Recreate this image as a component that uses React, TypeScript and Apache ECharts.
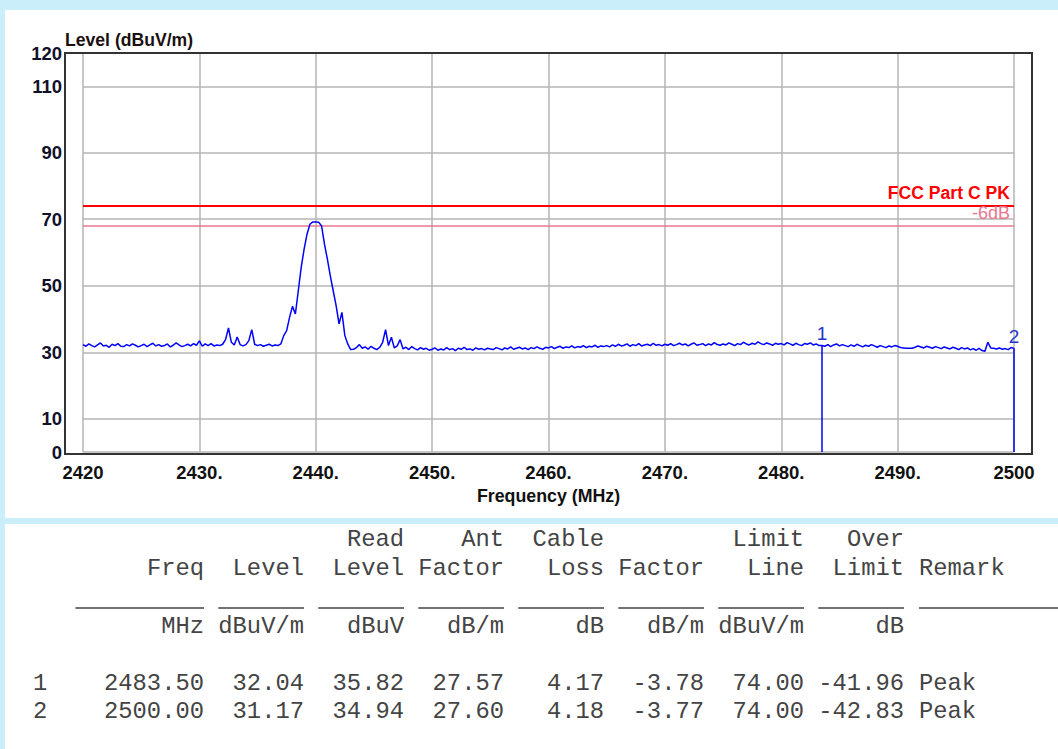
import React, { useEffect, useRef } from "react";
import * as echarts from "echarts";

// ---- axis ticks ----
const xTickValues = [2420, 2430, 2440, 2450, 2460, 2470, 2480, 2490, 2500];
const xTickLabels = ["2420", "2430.", "2440.", "2450.", "2460.", "2470.", "2480.", "2490.", "2500"];
const yTickValues = [0, 10, 30, 50, 70, 90, 110, 120];
const yTickLabels = ["0", "10", "30", "50", "70", "90", "110", "120"];

// ---- trace (sweep 2420..2500 MHz, 0.25 MHz step) ----
const traceStartMHz = 2420;
const traceStepMHz = 0.25;
const traceLevels = [
  32.3, 31.8, 32.5, 32.0, 31.6, 32.2, 32.8, 31.9, 32.1, 31.5, 32.4, 32.0, 32.6, 31.8, 31.7, 32.3, 31.9, 32.5, 32.1, 31.6,
  32.0, 32.4, 31.7, 32.2, 32.7, 31.9, 32.3, 31.8, 32.0, 32.5, 31.6, 32.1, 32.8, 32.2, 31.7, 32.0, 32.4, 31.9, 32.6, 32.1,
  33.4, 31.8, 32.5, 32.0, 32.6, 31.9, 32.2, 32.0, 32.4, 33.8, 37.3, 33.0, 32.2, 34.6, 32.3, 31.9, 32.3, 33.5, 36.8, 32.4,
  32.0, 32.3, 31.8, 32.1, 32.4, 31.9, 32.2, 32.0, 32.5, 35.0, 36.5, 40.5, 43.8, 41.5, 48.5, 55.5, 61.0, 65.5, 68.5, 69.2,
  69.2, 69.1, 68.0, 62.5, 58.0, 53.0, 48.5, 44.0, 38.5, 42.0, 35.0, 32.5, 30.8, 30.9, 31.4, 32.3, 31.2, 31.6, 30.9, 31.8,
  31.2, 30.8, 31.5, 33.0, 36.8, 32.0, 34.5, 31.3, 31.9, 33.8, 31.0, 31.5, 30.8, 31.7, 31.1, 30.7, 31.4, 30.9, 31.2, 30.6,
  30.9, 31.3, 30.6, 31.0, 30.7, 31.4, 30.8, 31.1, 30.5, 31.2, 30.9, 31.5, 30.8, 31.0, 30.6, 31.3, 30.9, 31.1, 30.7, 31.2,
  31.0, 30.8, 31.4, 31.1, 30.7, 31.3, 31.0, 31.6, 30.9, 31.2, 31.5, 31.0, 31.3, 30.8, 31.4, 31.1, 31.6, 31.2, 30.9, 31.5,
  31.3, 31.7, 31.1, 31.5, 31.8, 31.2, 31.6, 31.4, 31.9, 31.3, 31.7, 31.5, 32.0, 31.4, 31.8, 31.6, 32.1, 31.5, 31.9, 31.7,
  32.0, 31.6, 32.2, 31.8, 32.4, 31.9, 32.1, 32.5, 31.8, 32.3, 32.0, 32.6, 31.9, 32.2, 32.4, 32.0, 32.7, 32.1, 32.3, 31.9,
  32.4, 32.1, 32.6, 32.0, 32.3, 32.7, 32.2, 32.5, 31.9, 32.4, 32.8, 32.1, 32.3, 32.6, 32.0, 32.5, 32.2, 32.9, 32.3, 32.1,
  32.5, 32.2, 32.8, 32.4, 32.0, 32.6, 32.3, 33.0, 32.5, 32.2, 32.7, 32.4, 33.1, 32.6, 32.3, 32.8, 32.5, 32.1, 32.7, 32.4,
  32.6, 32.2, 32.9, 32.5, 32.1, 32.7, 32.3, 32.0, 32.6, 32.4, 32.8, 32.2, 32.5, 32.0, 32.04, 31.8, 32.3, 31.7, 32.2, 32.5,
  31.9, 32.3, 32.0, 31.7, 32.2, 31.8, 32.4, 32.0, 31.6, 32.1, 31.8, 32.3, 31.9, 31.5, 32.0, 31.7, 31.4, 31.9, 31.6, 32.0,
  31.8, 31.4, 31.3, 31.2, 31.2, 31.2, 31.5, 31.9, 31.6, 31.3, 31.8, 31.5, 31.2, 31.7, 31.4, 31.1, 31.6, 31.3, 31.0, 31.5,
  31.2, 30.8, 31.4, 31.0, 31.3, 30.7, 31.1, 30.6, 31.2, 30.5, 30.3, 33.0, 31.3, 31.2, 31.0, 31.3, 30.9, 31.1, 30.8, 31.4,
  31.17,
];

// ---- limit lines ----
const limitNames = ["FCC Part C PK", "-6dB"];
const limitValues = [74, 68];
const limitColors = ["#ff0000", "#e8788c"];

// ---- markers / table ----
const markerIds = ["1", "2"];
const markerFreq = [2483.5, 2500.0];
const markerLevel = [32.04, 31.17];
const readLevel = [35.82, 34.94];
const antFactor = [27.57, 27.6];
const cableLoss = [4.17, 4.18];
const corrFactor = [-3.78, -3.77];
const limitLine = [74.0, 74.0];
const overLimit = [-41.96, -42.83];
const remarks = ["Peak", "Peak"];

const header1 = ["", "", "Read", "Ant", "Cable", "", "Limit", "Over"];
const header2 = ["Freq", "Level", "Level", "Factor", "Loss", "Factor", "Line", "Limit"];
const units = ["MHz", "dBuV/m", "dBuV", "dB/m", "dB", "dB/m", "dBuV/m", "dB"];
const remarkHeader = "Remark";

export default function App() {
  const ref = useRef<HTMLDivElement>(null);

  useEffect(() => {
    if (!ref.current) return;
    const chart = echarts.init(ref.current, null, { renderer: "svg" });

    const traceData = traceLevels.map((v, i) => [traceStartMHz + i * traceStepMHz, v]);

    const sans = '"Liberation Sans", Arial, sans-serif';
    const mono = '"Liberation Mono", "Courier New", monospace';
    const tableFont = `23.8px ${mono}`;
    const tableColor = "#444444";

    const colRight = [204, 304, 404, 504, 604, 704, 804, 904];
    const colChars = [9, 6, 6, 6, 6, 6, 6, 6];
    const pitch = 14.29;
    const remarkX = 919;
    const rowY = [683, 711];

    const graphics: any[] = [];
    graphics.push({ type: "rect", z: -10, silent: true, shape: { x: 5, y: 10, width: 1053, height: 508 }, style: { fill: "#ffffff" } });
    graphics.push({ type: "rect", z: -10, silent: true, shape: { x: 5, y: 524, width: 1053, height: 225 }, style: { fill: "#ffffff" } });
    graphics.push({ type: "rect", z: 100, silent: true, shape: { x: 65, y: 53, width: 967, height: 401 }, style: { fill: "none", stroke: "#333333", lineWidth: 2 } });
    graphics.push({ type: "text", z: 100, x: 65, y: 40, style: { text: "Level (dBuV/m)", font: `bold 17.6px ${sans}`, fill: "#1a1010", align: "left", verticalAlign: "middle" } });

    const txt = (text: string, x: number, y: number, align: string) => ({
      type: "text", z: 100, silent: true, x, y,
      style: { text, font: tableFont, fill: tableColor, align, verticalAlign: "middle" },
    });

    header1.forEach((h, i) => { if (h) graphics.push(txt(h, colRight[i], 539, "right")); });
    header2.forEach((h, i) => graphics.push(txt(h, colRight[i], 568, "right")));
    graphics.push(txt(remarkHeader, remarkX, 568, "left"));
    colRight.forEach((r, i) => {
      graphics.push({ type: "line", z: 100, silent: true, shape: { x1: r - colChars[i] * pitch, y1: 608, x2: r, y2: 608 }, style: { stroke: tableColor, lineWidth: 1.5 } });
    });
    graphics.push({ type: "line", z: 100, silent: true, shape: { x1: remarkX, y1: 608, x2: 1058, y2: 608 }, style: { stroke: tableColor, lineWidth: 1.5 } });
    units.forEach((u, i) => graphics.push(txt(u, colRight[i], 626, "right")));

    markerIds.forEach((id, r) => {
      const vals = [markerFreq[r], markerLevel[r], readLevel[r], antFactor[r], cableLoss[r], corrFactor[r], limitLine[r], overLimit[r]];
      graphics.push(txt(id, 33, rowY[r], "left"));
      vals.forEach((v, i) => graphics.push(txt(v.toFixed(2), colRight[i], rowY[r], "right")));
      graphics.push(txt(remarks[r], remarkX, rowY[r], "left"));
    });

    const option: any = {
      animation: false,
      backgroundColor: "#cbeefb",
      grid: { left: 83, right: 44, top: 53, bottom: 297, containLabel: false, outerBoundsMode: "none" },
      xAxis: {
        type: "value",
        min: 2420,
        max: 2500,
        interval: 10,
        name: "Frequency (MHz)",
        nameLocation: "middle",
        nameGap: 29,
        nameTextStyle: { fontFamily: sans, fontWeight: "bold", fontSize: 17.8, color: "#111111" },
        axisLine: { show: false },
        axisTick: { show: false },
        splitLine: { show: true, lineStyle: { color: "#b4b4b4", width: 1.5 } },
        axisLabel: {
          show: true,
          margin: 11,
          showMinLabel: true,
          showMaxLabel: true,
          hideOverlap: false,
          fontFamily: sans,
          fontWeight: "bold",
          fontSize: 18.5,
          color: "#111111",
          formatter: (v: number) => {
            const i = xTickValues.indexOf(Math.round(v));
            return i >= 0 ? xTickLabels[i] : String(v);
          },
        },
      },
      yAxis: {
        type: "value",
        min: 0,
        max: 120,
        offset: 18,
        axisLine: { show: false },
        axisTick: { show: false, customValues: yTickValues },
        splitLine: { show: true, lineStyle: { color: "#b4b4b4", width: 1.5 } },
        axisLabel: {
          show: true,
          margin: 3,
          customValues: yTickValues,
          fontFamily: sans,
          fontWeight: "bold",
          fontSize: 18.5,
          color: "#10102a",
          formatter: (v: number) => {
            const i = yTickValues.indexOf(Math.round(v));
            return i >= 0 ? yTickLabels[i] : String(v);
          },
        },
      },
      series: [
        {
          type: "line",
          data: traceData,
          showSymbol: false,
          symbol: "none",
          silent: true,
          lineStyle: { color: "#0000ff", width: 1.5 },
          z: 5,
          markLine: {
            silent: true,
            symbol: ["none", "none"],
            animation: false,
            data: [
              ...limitValues.map((v, i) => ({
                yAxis: v,
                lineStyle: { color: limitColors[i], width: i === 0 ? 2 : 1.5, type: "solid" },
                label: {
                  show: true,
                  position: "insideEndTop",
                  distance: 4,
                  formatter: limitNames[i],
                  color: limitColors[i],
                  fontFamily: sans,
                  fontWeight: i === 0 ? "bold" : "normal",
                  fontSize: i === 0 ? 17.6 : 18,
                },
              })),
              ...markerIds.map((id, i) => [
                {
                  name: id,
                  coord: [markerFreq[i], markerLevel[i]],
                  lineStyle: { color: "#0000ff", width: 1.5, type: "solid" },
                  label: {
                    show: true,
                    position: "start",
                    distance: 2,
                    formatter: id,
                    color: "#2233cc",
                    fontFamily: sans,
                    fontSize: 19,
                  },
                },
                { coord: [markerFreq[i], 0] },
              ]),
            ],
          },
        },
      ],
      graphic: graphics,
    };

    chart.setOption(option);
    return () => chart.dispose();
  }, []);

  return (
    <div
      ref={ref}
      style={{ position: "absolute", left: 0, top: 0, width: 1058, height: 749 }}
    />
  );
}
